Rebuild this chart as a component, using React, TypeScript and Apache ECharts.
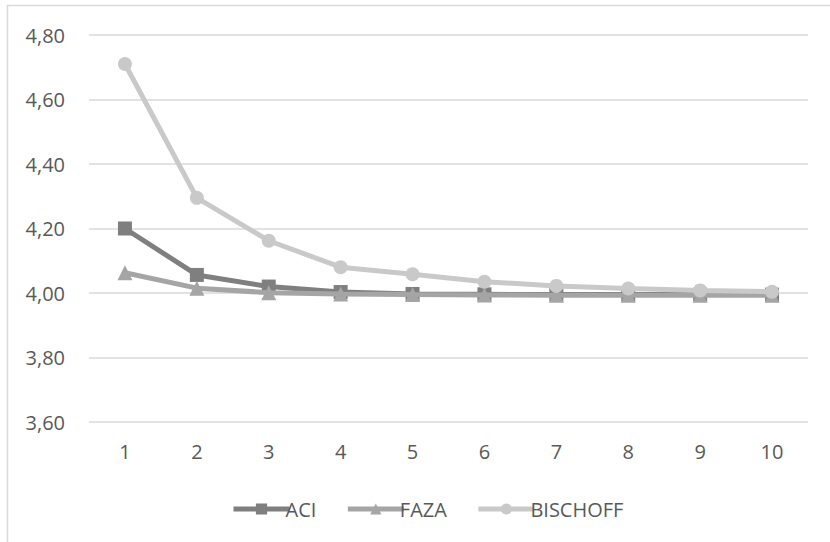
import React, { useEffect, useRef } from "react";
import * as echarts from "echarts";

const categories = ["1", "2", "3", "4", "5", "6", "7", "8", "9", "10"];
const aci = [4.2, 4.056, 4.02, 4.003, 3.997, 3.996, 3.995, 3.995, 3.995, 3.995];
const faza = [4.063, 4.015, 4.001, 3.997, 3.995, 3.994, 3.993, 3.993, 3.993, 3.993];
const bischoff = [4.71, 4.295, 4.162, 4.08, 4.058, 4.035, 4.022, 4.014, 4.008, 4.004];

const FONT = "Open Sans";

export default function App() {
  const ref = useRef<HTMLDivElement>(null);
  useEffect(() => {
    const chart = echarts.init(ref.current!, null, { renderer: "svg" });
    const mk = (name: string, data: number[], color: string, symbol: string, size: number) => ({
      name,
      type: "line",
      data,
      symbol,
      symbolSize: size,
      lineStyle: { color, width: 5 },
      itemStyle: { color },
      z: name === "BISCHOFF" ? 3 : name === "ACI" ? 1 : 2,
    });
    chart.setOption({
      animation: false,
      backgroundColor: "#ffffff",
      textStyle: { fontFamily: FONT },
      graphic: [
        {
          type: "rect",
          shape: { x: 7.5, y: 5.5, width: 900, height: 600 },
          style: { fill: "none", stroke: "#d9d9d9", lineWidth: 1.5 },
          silent: true,
        },
      ],
      grid: { left: 89, right: 22, top: 35, height: 387 },
      legend: {
        left: 226,
        top: 494,
        itemWidth: 56,
        itemHeight: 14,
        itemGap: 29,
        lineStyle: { width: 5 },
        textStyle: {
          color: "#595959",
          fontSize: 20,
          fontFamily: FONT,
          padding: [0, 0, 0, -9],
        },
        data: ["ACI", "FAZA", "BISCHOFF"],
      },
      xAxis: {
        type: "category",
        data: categories,
        boundaryGap: true,
        axisLine: { show: false },
        axisTick: { show: false },
        axisLabel: { color: "#595959", fontSize: 20, margin: 19, fontFamily: FONT },
      },
      yAxis: {
        type: "value",
        min: 3.6,
        max: 4.8,
        interval: 0.2,
        axisLine: { show: false },
        axisTick: { show: false },
        axisLabel: {
          color: "#595959",
          fontSize: 20,
          margin: 24,
          fontFamily: FONT,
          formatter: (v: number) => v.toFixed(2).replace(".", ","),
        },
        splitLine: { lineStyle: { color: "#d9d9d9", width: 1.5 } },
      },
      series: [
        mk("ACI", aci, "#7f7f7f", "rect", 14),
        mk("FAZA", faza, "#a5a5a5", "triangle", 15),
        mk("BISCHOFF", bischoff, "#c9c9c9", "circle", 14),
      ],
    });
    return () => chart.dispose();
  }, []);
  return (
    <div
      ref={ref}
      style={{ position: "absolute", left: 0, top: 0, width: 830, height: 542 }}
    />
  );
}
